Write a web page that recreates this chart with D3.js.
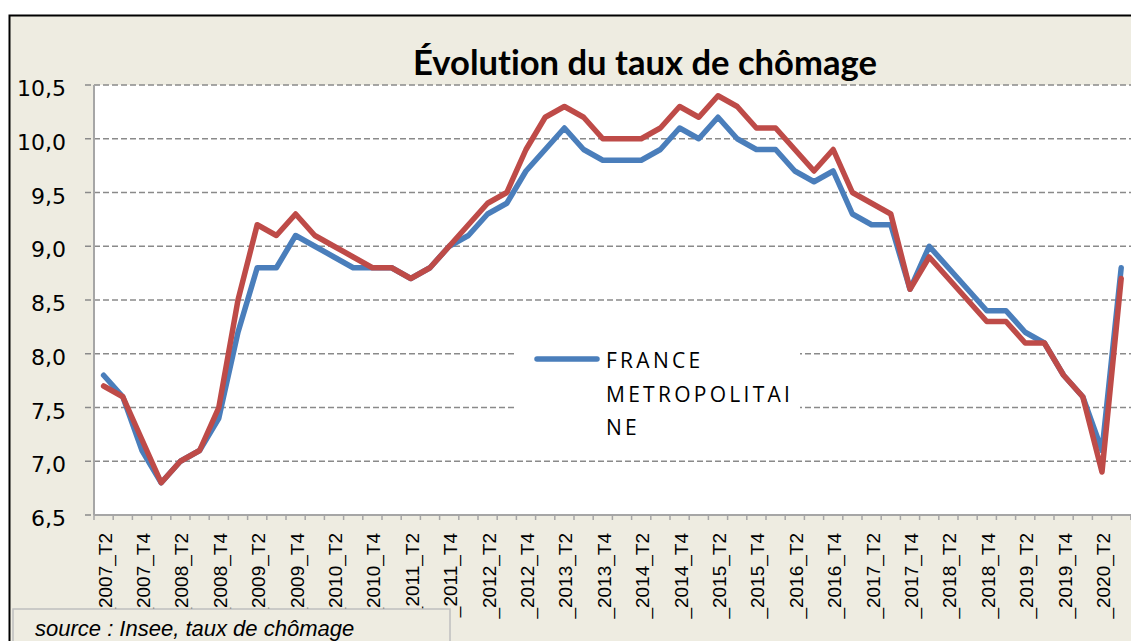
<!DOCTYPE html>
<html>
<head>
<meta charset="utf-8">
<script src="https://cdn.jsdelivr.net/npm/d3@7/dist/d3.min.js"></script>
<style>
  body { margin: 0; background: #fff; }
  svg { display: block; }
</style>
</head>
<body>
<script>
// quarters shown on the x axis
var quarters = [
    "2007_T2", "2007_T3", "2007_T4",
    "2008_T1", "2008_T2", "2008_T3", "2008_T4",
    "2009_T1", "2009_T2", "2009_T3", "2009_T4",
    "2010_T1", "2010_T2", "2010_T3", "2010_T4",
    "2011_T1", "2011_T2", "2011_T3", "2011_T4",
    "2012_T1", "2012_T2", "2012_T3", "2012_T4",
    "2013_T1", "2013_T2", "2013_T3", "2013_T4",
    "2014_T1", "2014_T2", "2014_T3", "2014_T4",
    "2015_T1", "2015_T2", "2015_T3", "2015_T4",
    "2016_T1", "2016_T2", "2016_T3", "2016_T4",
    "2017_T1", "2017_T2", "2017_T3", "2017_T4",
    "2018_T1", "2018_T2", "2018_T3", "2018_T4",
    "2019_T1", "2019_T2", "2019_T3", "2019_T4",
    "2020_T1", "2020_T2", "2020_T3"
];

// France metropolitaine (blue)
var metropole = [
    7.8, 7.6, 7.1, 6.8, 7.0, 7.1, 7.4, 8.2, 8.8, 8.8,
    9.1, 9.0, 8.9, 8.8, 8.8, 8.8, 8.7, 8.8, 9.0, 9.1,
    9.3, 9.4, 9.7, 9.9, 10.1, 9.9, 9.8, 9.8, 9.8, 9.9,
    10.1, 10.0, 10.2, 10.0, 9.9, 9.9, 9.7, 9.6, 9.7, 9.3,
    9.2, 9.2, 8.6, 9.0, 8.8, 8.6, 8.4, 8.4, 8.2, 8.1,
    7.8, 7.6, 7.1, 8.8
];

// second series (red), its legend entry is not visible
var zone = [
    7.7, 7.6, 7.2, 6.8, 7.0, 7.1, 7.5, 8.5, 9.2, 9.1,
    9.3, 9.1, 9.0, 8.9, 8.8, 8.8, 8.7, 8.8, 9.0, 9.2,
    9.4, 9.5, 9.9, 10.2, 10.3, 10.2, 10.0, 10.0, 10.0, 10.1,
    10.3, 10.2, 10.4, 10.3, 10.1, 10.1, 9.9, 9.7, 9.9, 9.5,
    9.4, 9.3, 8.6, 8.9, 8.7, 8.5, 8.3, 8.3, 8.1, 8.1,
    7.8, 7.6, 6.9, 8.7
];

var yTicks = [6.5, 7.0, 7.5, 8.0, 8.5, 9.0, 9.5, 10.0, 10.5];

var width = 1131;
var height = 641;
var plotLeft = 94;
var plotRight = 1131;
var plotTop = 85;
var plotBottom = 515;

var svg = d3.select("body").append("svg")
    .attr("width", width)
    .attr("height", height);

/*****************  Frame **********************/

svg.append("rect")
    .attr("x", 9.5)
    .attr("y", 15.5)
    .attr("width", 1300)
    .attr("height", 800)
    .style("fill", "#EEECE1")
    .style("stroke", "#000")
    .style("stroke-width", 2);

svg.append("rect")
    .attr("x", plotLeft)
    .attr("y", plotTop)
    .attr("width", plotRight - plotLeft)
    .attr("height", plotBottom - plotTop)
    .style("fill", "#fff");

/*****************  Scales **********************/

var x = d3.scaleBand()
    .domain(quarters)
    .range([plotLeft, plotLeft + 19.2 * quarters.length])
    .padding(0);

var y = d3.scaleLinear()
    .domain([6.5, 10.5])
    .range([plotBottom, plotTop]);

function cx(q) {
    return x(q) + x.bandwidth() / 2;
}

/*****************  Grid lines **********************/

svg.selectAll(".grid")
    .data(yTicks)
    .enter()
    .append("line")
    .attr("class", "grid")
    .attr("x1", 85)
    .attr("x2", plotRight)
    .attr("y1", function (d) { return y(d); })
    .attr("y2", function (d) { return y(d); })
    .style("stroke", "#8a8a8a")
    .style("stroke-width", 1.6)
    .style("stroke-dasharray", "6,3");

/*****************  Axes **********************/

var yAxis = svg.append("g")
    .attr("transform", "translate(" + plotLeft + ",0)")
    .call(d3.axisLeft(y)
        .tickValues(yTicks)
        .tickSize(0)
        .tickPadding(28)
        .tickFormat(function (d) { return d.toFixed(1).replace(".", ","); }));

yAxis.select(".domain").remove();
yAxis.selectAll("text")
    .attr("dy", "0.48em")
    .style("font-family", "'DejaVu Sans', sans-serif")
    .style("font-size", "22px")
    .style("fill", "#000");

svg.append("line")
    .attr("x1", plotLeft)
    .attr("x2", plotLeft)
    .attr("y1", plotTop)
    .attr("y2", plotBottom)
    .style("stroke", "#a6a6a6")
    .style("stroke-width", 2);

// tick marks sit between quarters
svg.selectAll(".xtick")
    .data(quarters.concat(["end"]))
    .enter()
    .append("line")
    .attr("class", "xtick")
    .attr("x1", function (d, i) { return plotLeft + i * x.bandwidth(); })
    .attr("x2", function (d, i) { return plotLeft + i * x.bandwidth(); })
    .attr("y1", plotBottom)
    .attr("y2", plotBottom + 5)
    .style("stroke", "#a6a6a6")
    .style("stroke-width", 1.5);

var xAxis = svg.append("g")
    .attr("transform", "translate(0," + plotBottom + ")")
    .call(d3.axisBottom(x)
        .tickValues(quarters.filter(function (d, i) { return i % 2 == 0; }))
        .tickSize(0)
        .tickSizeOuter(0)
        .tickFormat(function (d) { return "_" + d; }));

xAxis.select(".domain")
    .attr("d", "M" + plotLeft + ",0H" + plotRight)
    .style("stroke", "#a6a6a6")
    .style("stroke-width", 2);

xAxis.selectAll("text")
    .attr("transform", "rotate(-90)")
    .attr("x", -18)
    .attr("y", 8)
    .attr("dy", 0)
    .attr("text-anchor", "end")
    .style("font-family", "'Liberation Sans', Arial, sans-serif")
    .style("font-size", "19px")
    .style("fill", "#000");

/*****************  Lines **********************/

var line = d3.line()
    .x(function (d, i) { return cx(quarters[i]); })
    .y(function (d) { return y(d); });

svg.append("path")
    .datum(metropole)
    .attr("d", line)
    .style("fill", "none")
    .style("stroke", "#4A7EBB")
    .style("stroke-width", 5.5)
    .style("stroke-linejoin", "round")
    .style("stroke-linecap", "round");

svg.append("path")
    .datum(zone)
    .attr("d", line)
    .style("fill", "none")
    .style("stroke", "#BE4B48")
    .style("stroke-width", 5.5)
    .style("stroke-linejoin", "round")
    .style("stroke-linecap", "round");

/*****************  Legend **********************/

svg.append("rect")
    .attr("x", 517)
    .attr("y", 337)
    .attr("width", 283)
    .attr("height", 108)
    .style("fill", "#fff");

svg.append("line")
    .attr("x1", 537)
    .attr("x2", 597)
    .attr("y1", 359)
    .attr("y2", 359)
    .style("stroke", "#4A7EBB")
    .style("stroke-width", 5.5)
    .style("stroke-linecap", "round");

var legendLines = ["FRANCE", "METROPOLITAI", "NE"];

var legendText = svg.selectAll(".legendText")
    .data(legendLines)
    .enter()
    .append("text")
    .attr("class", "legendText")
    .attr("x", 606)
    .attr("y", function (d, i) { return 368 + i * 33.5; })
    .text(function (d) { return d; })
    .style("font-family", "'Open Sans', sans-serif")
    .style("font-size", "21px")
    .style("fill", "#000");

// spread letters so the longest row is as wide as in the picture
var longest = legendText.filter(function (d, i) { return i == 1; }).node().getComputedTextLength();
legendText.style("letter-spacing", ((184 - longest) / 11) + "px");

/*****************  Title **********************/

var title = svg.append("text")
    .attr("x", 645)
    .attr("y", 75)
    .attr("text-anchor", "middle")
    .text("Évolution du taux de chômage")
    .style("font-family", "Lato, sans-serif")
    .style("font-weight", "bold")
    .style("font-variant-ligatures", "none")
    .style("font-size", "34px")
    .style("fill", "#000");

var titleWidth = title.node().getComputedTextLength();
title.style("font-size", (34 * 464 / titleWidth) + "px");

/*****************  Source box **********************/

svg.append("rect")
    .attr("x", 13)
    .attr("y", 609)
    .attr("width", 437)
    .attr("height", 60)
    .style("fill", "#EEECE1")
    .style("stroke", "#bfbfbf")
    .style("stroke-width", 1.5);

svg.append("text")
    .attr("x", 35)
    .attr("y", 636)
    .text("source : Insee, taux de chômage")
    .style("font-family", "'Liberation Sans', Arial, sans-serif")
    .style("font-style", "italic")
    .style("font-size", "22px")
    .style("fill", "#000");
</script>
</body>
</html>
